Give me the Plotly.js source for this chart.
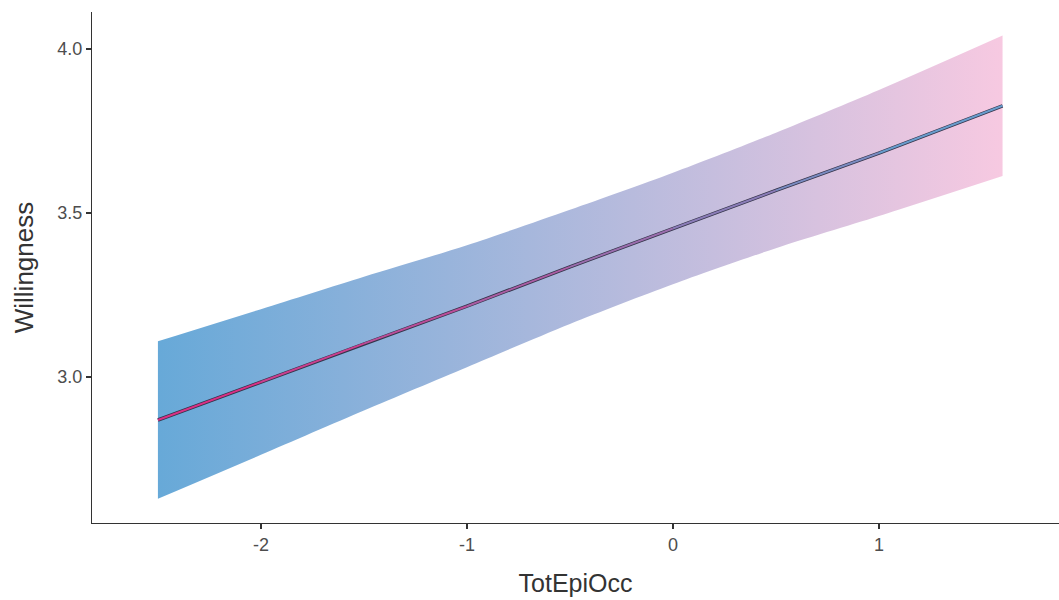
<!DOCTYPE html>
<html>
<head>
<meta charset="utf-8">
<script src="https://cdn.plot.ly/plotly-3.0.1.min.js"></script>
<style>html,body{margin:0;padding:0;background:#fff;}#chart{width:1059px;height:600px;}</style>
</head>
<body>
<div id="chart"></div>
<script>
// Data
const totEpiOcc   = [-2.5, -2.0, -1.5, -1.0, -0.5, 0.0, 0.5, 1.0, 1.6];
const fitWilling  = [2.869, 2.985, 3.102, 3.216, 3.336, 3.453, 3.569, 3.683, 3.827];
const upperCI     = [3.109, 3.207, 3.306, 3.402, 3.510, 3.623, 3.745, 3.875, 4.041];
const lowerCI     = [2.629, 2.763, 2.898, 3.030, 3.162, 3.283, 3.393, 3.491, 3.613];
const xTickVals   = [-2, -1, 0, 1];
const xTickText   = ["-2", "-1", "0", "1"];
const yTickVals   = [3.0, 3.5, 4.0];
const yTickText   = ["3.0", "3.5", "4.0"];

const bandLeft = [103, 169, 216], bandRight = [247, 201, 225];
const lineLeft = [226, 40, 128], lineRight = [95, 165, 210];

function mix(a, b, t) {
  return 'rgb(' + a.map((v, i) => Math.round(v + (b[i] - v) * t)).join(',') + ')';
}

const traces = [];
// confidence band: lower edge, then upper edge filled down to it with a horizontal gradient
traces.push({
  type: 'scatter', mode: 'lines', x: totEpiOcc, y: lowerCI,
  line: {width: 0, shape: 'spline', smoothing: 0.8},
  hoverinfo: 'skip', showlegend: false
});
traces.push({
  type: 'scatter', mode: 'lines', x: totEpiOcc, y: upperCI,
  fill: 'tonexty',
  fillgradient: {type: 'horizontal', colorscale: [[0, mix(bandLeft, bandRight, 0)], [1, mix(bandLeft, bandRight, 1)]]},
  line: {width: 0, shape: 'spline', smoothing: 0.8},
  hoverinfo: 'skip', showlegend: false
});
// dark outline of fitted line
traces.push({
  type: 'scatter', mode: 'lines', x: totEpiOcc, y: fitWilling,
  line: {color: '#34344a', width: 3.5}, showlegend: false, hoverinfo: 'skip'
});
// gradient-coloured fitted line, segment by segment
const x0 = totEpiOcc[0], x1 = totEpiOcc[totEpiOcc.length - 1];
for (let i = 0; i < totEpiOcc.length - 1; i++) {
  const t = ((totEpiOcc[i] + totEpiOcc[i + 1]) / 2 - x0) / (x1 - x0);
  traces.push({
    type: 'scatter', mode: 'lines',
    x: [totEpiOcc[i], totEpiOcc[i + 1]], y: [fitWilling[i], fitWilling[i + 1]],
    line: {color: mix(lineLeft, lineRight, t), width: 2},
    showlegend: false, hoverinfo: 'skip'
  });
}

const FAM = 'Liberation Sans, Arial, sans-serif';
const axisFont = {family: FAM, size: 18, color: '#4d4d4d'};
const layout = {
  width: 1059, height: 600,
  margin: {l: 92, r: 0, t: 12, b: 77},
  paper_bgcolor: '#fff', plot_bgcolor: '#fff',
  showlegend: false,
  xaxis: {
    range: [-2.82, 1.874], showgrid: false, zeroline: false,
    showline: true, linecolor: '#333', linewidth: 1.2,
    ticks: 'outside', ticklen: 5, tickcolor: '#333', tickwidth: 1.2,
    tickvals: xTickVals, ticktext: xTickText, tickfont: axisFont,
    title: {text: 'TotEpiOcc', font: {family: FAM, size: 25, color: '#333'}, standoff: 20}
  },
  yaxis: {
    range: [2.555, 4.113], showgrid: false, zeroline: false,
    showline: true, linecolor: '#333', linewidth: 1.2,
    ticks: 'outside', ticklen: 5, tickcolor: '#333', tickwidth: 1.2,
    tickvals: yTickVals, ticktext: yTickText, tickfont: axisFont,
    title: {text: 'Willingness', font: {family: FAM, size: 26, color: '#333'}, standoff: 16}
  }
};
Plotly.newPlot('chart', traces, layout, {staticPlot: true, displayModeBar: false});
</script>
</body>
</html>
